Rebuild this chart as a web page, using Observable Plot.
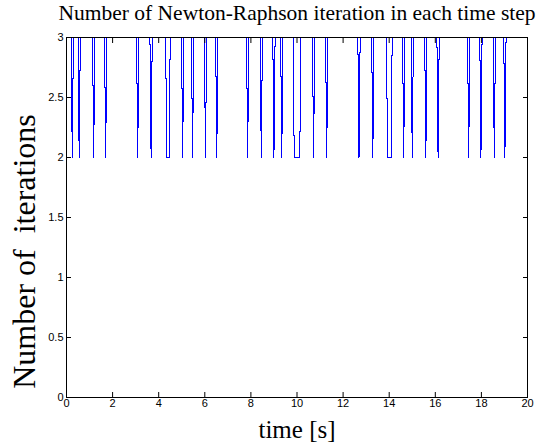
<!DOCTYPE html>
<html>
<head>
<meta charset="utf-8">
<script src="https://cdn.jsdelivr.net/npm/d3@7"></script>
<script src="https://cdn.jsdelivr.net/npm/@observablehq/plot@0.6"></script>
<style>
  body { margin: 0; background: #fff; }
  svg text { white-space: pre; }
</style>
</head>
<body>
<div id="chart"></div>
<script>
// Newton-Raphson iteration count per time step (line vertices)
const time = [
  0,
  0.20, 0.25, 0.30,
  0.50, 0.55, 0.60,
  1.13, 1.18, 1.23,
  1.65, 1.70, 1.75,
  3.04, 3.09, 3.14,
  3.62, 3.67, 3.72,
  4.30, 4.35, 4.45, 4.50,
  4.99, 5.04, 5.09,
  5.42, 5.47, 5.52,
  5.98, 6.03, 6.08,
  6.47, 6.52, 6.57,
  7.81, 7.86, 7.91,
  8.40, 8.45, 8.50,
  8.95, 9.00, 9.05,
  9.29, 9.34, 9.39,
  9.83, 9.88, 10.12, 10.17,
  10.67, 10.72, 10.77,
  11.24, 11.29, 11.34,
  12.64, 12.69, 12.74,
  13.24, 13.29, 13.34,
  13.88, 13.93, 14.08, 14.13,
  14.58, 14.63, 14.68,
  14.95, 15.00, 15.05,
  15.54, 15.59, 15.64,
  16.07, 16.12, 16.17,
  17.40, 17.45, 17.50,
  17.93, 17.98, 18.03,
  18.51, 18.56, 18.61,
  18.97, 19.02, 19.07,
  20
];
const iterations = [
  3,
  3, 2, 3,
  3, 2, 3,
  3, 2, 3,
  3, 2, 3,
  3, 2, 3,
  3, 2, 3,
  3, 2, 2, 3,
  3, 2, 3,
  3, 2, 3,
  3, 2, 3,
  3, 2, 3,
  3, 2, 3,
  3, 2, 3,
  3, 2, 3,
  3, 2, 3,
  3, 2, 2, 3,
  3, 2, 3,
  3, 2, 3,
  3, 2, 3,
  3, 2, 3,
  3, 2, 2, 3,
  3, 2, 3,
  3, 2, 3,
  3, 2, 3,
  3, 2, 3,
  3, 2, 3,
  3, 2, 3,
  3, 2, 3,
  3, 2, 3,
  3
];

const xTicks = [0, 2, 4, 6, 8, 10, 12, 14, 16, 18, 20];
const xTickLabels = ["0", "2", "4", "6", "8", "10", "12", "14", "16", "18", "20"];
const yTicks = [0, 0.5, 1, 1.5, 2, 2.5, 3];
const yTickLabels = ["0", "0.5", "1", "1.5", "2", "2.5", "3"];

const titleText = "Number of Newton-Raphson iteration in each time step";
const xLabelText = "time [s]";
const yLabelText = "Number of  iterations";

const steps = time.map((t, i) => ({t, n: iterations[i]}));

const serif = "'Liberation Serif', 'Times New Roman', serif";
const xFmt = d => xTickLabels[xTicks.indexOf(d)];
const yFmt = d => yTickLabels[yTicks.indexOf(d)];

const chart = Plot.plot({
  width: 538,
  height: 445,
  marginTop: 37,
  marginRight: 11,
  marginBottom: 48,
  marginLeft: 66,
  style: {
    fontFamily: "'Liberation Sans', Arial, sans-serif",
    fontSize: "11px",
    background: "white",
    color: "black"
  },
  x: {domain: [0, 20]},
  y: {domain: [0, 3]},
  marks: [
    Plot.line(steps, {x: "t", y: "n", stroke: "#0000ff", strokeWidth: 1, shapeRendering: "crispEdges"}),
    Plot.frame({stroke: "black"}),
    Plot.axisX(xTicks, {anchor: "bottom", tickSize: -5, tickPadding: 7, tickFormat: xFmt, label: null}),
    Plot.axisX(xTicks, {anchor: "top", tickSize: -5, tickFormat: () => "", label: null}),
    Plot.axisY(yTicks, {anchor: "left", tickSize: -5, tickPadding: 8, tickFormat: yFmt, label: null}),
    Plot.axisY(yTicks, {anchor: "right", tickSize: -5, tickFormat: () => "", label: null}),
    Plot.text([titleText], {
      frameAnchor: "top", dy: -18, lineAnchor: "bottom",
      fontFamily: serif, fontSize: 21.5, fill: "black"
    }),
    Plot.text([xLabelText], {
      frameAnchor: "bottom", dy: 40, lineAnchor: "bottom",
      fontFamily: serif, fontSize: 25, fill: "black"
    }),
    Plot.text([yLabelText], {
      frameAnchor: "left", dx: -32, dy: 34, rotate: -90, lineAnchor: "bottom",
      textAnchor: "middle", fontFamily: serif, fontSize: 32, fill: "black"
    })
  ]
});

document.getElementById("chart").appendChild(chart);
</script>
</body>
</html>
